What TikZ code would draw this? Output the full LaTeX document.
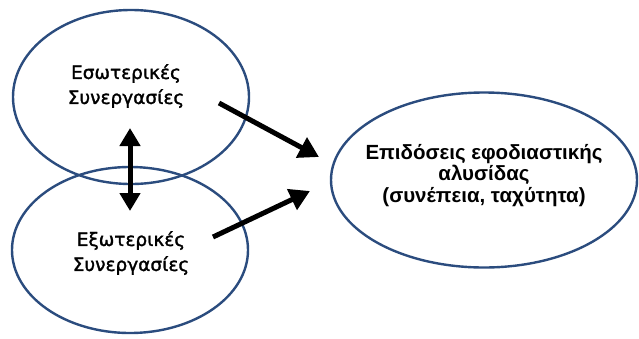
\documentclass[tikz,border=0pt]{standalone}
\usepackage{fontspec}
\setmainfont{Liberation Sans}
\newfontfamily\widesans[FakeBold=1.6]{DejaVu Sans}
\usetikzlibrary{shapes.geometric,arrows.meta}
\definecolor{ringblue}{HTML}{2B4C7E}
\tikzset{
  ring/.style={ellipse, draw=ringblue, line width=2.4pt, inner sep=0pt},
  label/.style={align=center, font=\widesans\fontsize{18.5}{25}\selectfont},
  boldlabel/.style={align=center, font=\fontsize{20.5}{21.5}\selectfont\bfseries},
  flow/.style={line width=5pt, -{Triangle[length=20pt,width=22pt]}},
  both/.style={line width=5pt, {Triangle[length=18pt,width=20pt]}-{Triangle[length=18pt,width=20pt]}}
}
\begin{document}
\begin{tikzpicture}[x=1pt,y=-1pt]
  \useasboundingbox (0,0) rectangle (639,338);
  % the three groups
  \node[ring, minimum width=236pt, minimum height=174pt] (inner) at (131,97) {};
  \node[ring, minimum width=236pt, minimum height=166pt] (outer) at (130,250) {};
  \node[ring, minimum width=306pt, minimum height=175pt] (chain) at (484,180) {};
  % labels
  \node[label] (innerText) at (126,86) {Εσωτερικές\\Συνεργασίες};
  \node[label] (outerText) at (131,253) {Εξωτερικές\\Συνεργασίες};
  \node[boldlabel] (chainText) at (484,175.5) {Επιδόσεις εφοδιαστικής\\αλυσίδας\\(συνέπεια, ταχύτητα)};
  % arrow end points
  \coordinate (a1) at (219,103);
  \coordinate (a2) at (319,157);
  \coordinate (b1) at (213,237);
  \coordinate (b2) at (310,191);
  \coordinate (c1) at (130,128);
  \coordinate (c2) at (130,211);
  \draw[flow] (a1) -- (a2);
  \draw[flow] (b1) -- (b2);
  \draw[both] (c1) -- (c2);
\end{tikzpicture}
\end{document}
